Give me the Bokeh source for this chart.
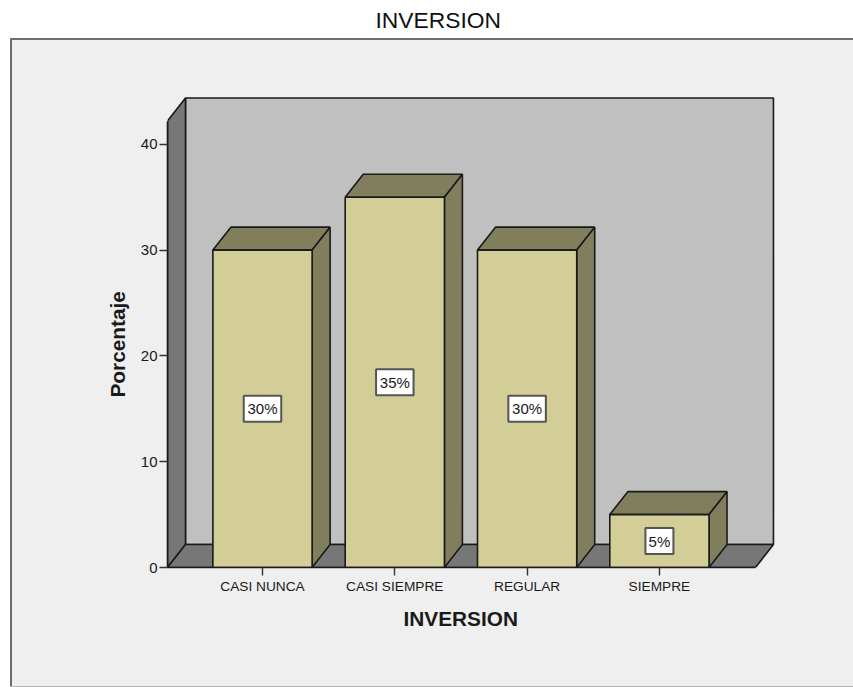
from bokeh.core.properties import value
from bokeh.embed import file_html
from bokeh.models import FixedTicker, Range1d, Title
from bokeh.plotting import figure
from bokeh.resources import INLINE

# Chart content
title = "INVERSION"
x_title = "INVERSION"
y_title = "Porcentaje"
categories = ["CASI NUNCA", "CASI SIEMPRE", "REGULAR", "SIEMPRE"]
percentages = [30, 35, 30, 5]
y_ticks = [0, 10, 20, 30, 40]

# Palette
PANEL = "#efefef"
PANEL_EDGE = "#6e6e6e"
WALL = "#c0c0c0"
WALL_DARK = "#777777"
BAR_FRONT = "#d3ce97"
BAR_SHADE = "#807e5c"
INK = "#1a1a1a"

# Scale geometry: one category step and one percent, with the oblique depth
BAR_WIDTH = 0.75
DEPTH_X = 0.136
DEPTH_Y = 2.17
X_LO, X_HI = -0.718, 3.726
Y_TOP = 42.2

FONT = "Liberation Sans"

p = figure(
    width=853,
    height=687,
    output_backend="svg",
    toolbar_location=None,
    x_range=Range1d(-0.718, 4.467),
    y_range=Range1d(0, 50.19),
    min_border_left=167,
    min_border_right=0,
    min_border_top=36,
    min_border_bottom=120,
    background_fill_alpha=0,
    border_fill_color=None,
    outline_line_color=None,
)
p.grid.visible = False

# Framed grey panel painted behind the transparent canvas
p.styles = {
    "background": (
        f"linear-gradient({PANEL},{PANEL}) 12px 40px / 841px 646px no-repeat, "
        f"linear-gradient({PANEL_EDGE},{PANEL_EDGE}) 9.5px 37.5px / 843.5px 648.5px no-repeat, "
        "#ffffff"
    )
}

p.title.text = title
p.title.text_font = FONT
p.title.text_font_size = "22.8px"
p.title.text_font_style = "normal"
p.title.text_color = "#111111"
p.title.text_line_height = 1.0
p.title.align = "left"
p.title.offset = 208
p.title.standoff = 8

# Back wall, left wall and floor of the 3D box
edge = dict(line_color=INK, line_width=1.6)
p.patch([X_LO + DEPTH_X, X_HI + DEPTH_X, X_HI + DEPTH_X, X_LO + DEPTH_X],
        [DEPTH_Y, DEPTH_Y, Y_TOP + DEPTH_Y, Y_TOP + DEPTH_Y], fill_color=WALL, **edge)
p.patch([X_LO, X_LO + DEPTH_X, X_LO + DEPTH_X, X_LO],
        [0, DEPTH_Y, Y_TOP + DEPTH_Y, Y_TOP], fill_color=WALL_DARK, **edge)
p.patch([X_LO, X_LO + DEPTH_X, X_HI + DEPTH_X, X_HI],
        [0, DEPTH_Y, DEPTH_Y, 0], fill_color=WALL_DARK, **edge)

# Bars: front face, top face and right side
half = BAR_WIDTH / 2
for i, v in enumerate(percentages):
    p.patch([i - half, i + half, i + half + DEPTH_X, i - half + DEPTH_X],
            [v, v, v + DEPTH_Y, v + DEPTH_Y], fill_color=BAR_SHADE, **edge)
    p.patch([i + half, i + half + DEPTH_X, i + half + DEPTH_X, i + half],
            [0, DEPTH_Y, v + DEPTH_Y, v], fill_color=BAR_SHADE, **edge)
    p.quad(left=i - half, right=i + half, bottom=0, top=v, fill_color=BAR_FRONT, **edge)

# Value labels in white boxes at mid-height of each bar
positions = list(range(len(categories)))
mids = [v / 2 for v in percentages]
labels = [f"{v}%" for v in percentages]
box_widths = [9 + 9.5 * len(t) for t in labels]
p.rect(positions, mids, width=box_widths, height=[26] * len(labels),
       width_units="screen", height_units="screen",
       fill_color="#ffffff", line_color="#555555", line_width=2)
p.text(positions, mids, text=labels, text_align="center", text_baseline="middle",
       text_font=value(FONT), text_font_size=value("15px"), text_color=INK)

# Axes
xa = p.xaxis[0]
xa.ticker = FixedTicker(ticks=positions)
xa.major_label_overrides = dict(zip(positions, categories))
xa.bounds = (X_LO, X_HI)
xa.major_label_text_font = FONT
xa.major_label_text_font_size = "13.7px"
xa.major_label_text_color = INK
xa.major_label_standoff = 3
xa.major_tick_in = 0
xa.major_tick_out = 8
xa.minor_tick_line_color = None
xa.axis_line_color = INK
xa.axis_line_width = 1.6
xa.major_tick_line_color = "#333333"
xa.major_tick_line_width = 1.4

ya = p.yaxis[0]
ya.ticker = FixedTicker(ticks=y_ticks)
ya.bounds = (0, Y_TOP)
ya.major_label_text_font = FONT
ya.major_label_text_font_size = "15px"
ya.major_label_text_color = INK
ya.major_label_standoff = 2
ya.major_tick_in = 0
ya.major_tick_out = 8
ya.minor_tick_line_color = None
ya.axis_line_color = INK
ya.axis_line_width = 1.6
ya.major_tick_line_color = "#333333"
ya.major_tick_line_width = 1.4

# Axis titles are centred on the box, not on the full plot frame
title_style = dict(text_font=FONT, text_font_style="bold", text_font_size="20.8px", text_color=INK)
p.add_layout(Title(text=x_title, align="left", offset=236, standoff=17, **title_style), "below")
p.add_layout(Title(text=y_title, align="left", offset=170, standoff=18, **title_style), "left")

open("out.html", "w").write(file_html(p, INLINE))
